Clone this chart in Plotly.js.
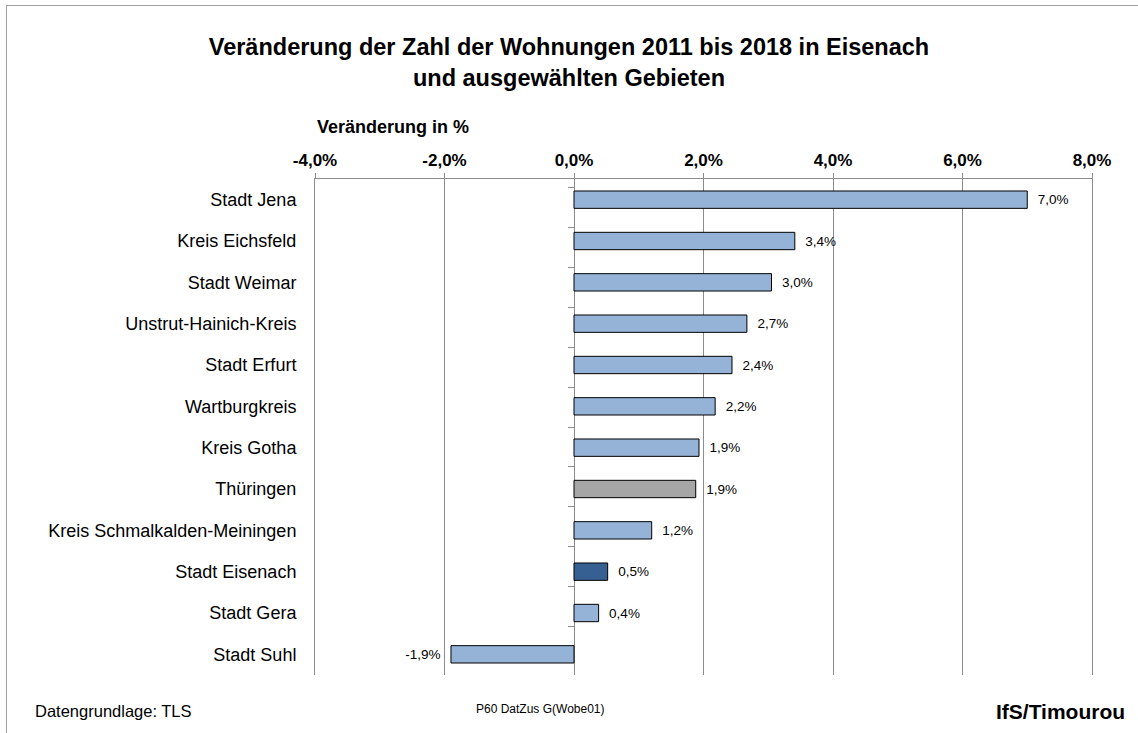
<!DOCTYPE html>
<html>
<head>
<meta charset="utf-8">
<script src="https://cdn.plot.ly/plotly-3.0.1.min.js"></script>
<style>
  html, body { margin: 0; padding: 0; overflow: hidden; background: #fff; }
  #wrap { position: relative; width: 1138px; height: 733px; }
  #chart { width: 1138px; height: 733px; }
  #frame { position: absolute; left: 6px; top: 5px; width: 1300px; height: 900px;
           border: 1px solid #a0a0a0; pointer-events: none; box-sizing: border-box; }
</style>
</head>
<body>
<div id="wrap">
  <div id="chart"></div>
  <div id="frame"></div>
</div>
<script>
const categories = [
  'Stadt Jena', 'Kreis Eichsfeld', 'Stadt Weimar', 'Unstrut-Hainich-Kreis',
  'Stadt Erfurt', 'Wartburgkreis', 'Kreis Gotha', 'Thüringen',
  'Kreis Schmalkalden-Meiningen', 'Stadt Eisenach', 'Stadt Gera', 'Stadt Suhl'
];
const changePct = [7.0, 3.41, 3.05, 2.67, 2.44, 2.18, 1.93, 1.88, 1.2, 0.52, 0.38, -1.9];
const xTickVals = [-4, -2, 0, 2, 4, 6, 8];
const xTickText = ['-4,0%', '-2,0%', '0,0%', '2,0%', '4,0%', '6,0%', '8,0%'];
const stateName = 'Thüringen';
const focusName = 'Stadt Eisenach';

const FONT = 'Liberation Sans, Arial, sans-serif';
const LIGHT = '#95b3d7', DARK = '#376092', GREY = '#a6a6a6', GRID = '#8c8c8c';
const NB = '\u00a0\u00a0';

const barColors = categories.map(c => c === stateName ? GREY : (c === focusName ? DARK : LIGHT));
const labels = changePct.map(v => {
  const s = v.toFixed(1).replace('.', ',') + '%';
  return v < 0 ? s + NB : NB + s;
});

const traces = [
  {
    type: 'bar', orientation: 'h',
    x: changePct, y: categories,
    marker: { color: barColors, line: { color: '#000', width: 1 } },
    width: 0.42,
    text: labels, textposition: 'outside', cliponaxis: false,
    textfont: { family: FONT, size: 13.5, color: '#000' },
    hoverinfo: 'x+y', showlegend: false
  },
  {
    type: 'scatter', mode: 'markers',
    x: changePct, y: categories, yaxis: 'y2',
    marker: { opacity: 0 }, hoverinfo: 'skip', showlegend: false
  }
];

const layout = {
  width: 1138, height: 733,
  margin: { l: 315, r: 46, t: 179, b: 58 },
  paper_bgcolor: '#fff', plot_bgcolor: '#fff',
  font: { family: FONT, color: '#000' },
  title: {
    text: 'Veränderung der Zahl der Wohnungen 2011 bis 2018 in Eisenach<br>und ausgewählten Gebieten',
    font: { family: FONT, size: 23.5, weight: 'bold', color: '#000' },
    x: 0.5, xref: 'container', xanchor: 'center',
    y: 1 - 55 / 733, yref: 'container', yanchor: 'top'
  },
  xaxis: {
    range: [-4, 8], side: 'top',
    tickvals: xTickVals, ticktext: xTickText,
    tickfont: { family: FONT, size: 17, weight: 'bold', color: '#000' },
    showgrid: true, gridcolor: GRID, gridwidth: 1,
    zeroline: true, zerolinecolor: GRID, zerolinewidth: 1,
    showline: true, linecolor: GRID, linewidth: 1,
    ticks: 'outside', ticklen: 5, tickcolor: GRID,
    fixedrange: true
  },
  yaxis: {
    type: 'category', categoryorder: 'array', categoryarray: categories,
    autorange: 'reversed',
    tickfont: { family: FONT, size: 18, color: '#000' },
    ticks: '', ticklabelstandoff: 14,
    showline: true, mirror: true, linecolor: GRID, linewidth: 1,
    showgrid: false, zeroline: false, fixedrange: true
  },
  yaxis2: {
    type: 'category', categoryorder: 'array', categoryarray: categories,
    autorange: 'reversed',
    overlaying: 'y', anchor: 'free', position: 1 / 3, side: 'left',
    showticklabels: false, showgrid: false, zeroline: false, showline: false,
    ticks: 'outside', tickson: 'boundaries', ticklen: 6, tickwidth: 1, tickcolor: GRID,
    fixedrange: true
  },
  annotations: [
    { text: '<b>Veränderung in %</b>', xref: 'paper', yref: 'paper',
      x: 0, xanchor: 'left', y: (675 - 127) / 496, yanchor: 'middle',
      showarrow: false, font: { family: FONT, size: 18, color: '#000' } },
    { text: 'Datengrundlage: TLS', xref: 'paper', yref: 'paper',
      x: (33 - 315) / 777, xanchor: 'left', y: (675 - 711) / 496, yanchor: 'middle',
      showarrow: false, font: { family: FONT, size: 16.5, color: '#000' } },
    { text: 'P60 DatZus G(Wobe01)', xref: 'paper', yref: 'paper',
      x: (540 - 315) / 777, xanchor: 'center', y: (675 - 709) / 496, yanchor: 'middle',
      showarrow: false, font: { family: FONT, size: 12, color: '#000' } },
    { text: '<b>IfS/Timourou</b>', xref: 'paper', yref: 'paper',
      x: (1127 - 315) / 777, xanchor: 'right', y: (675 - 711) / 496, yanchor: 'middle',
      showarrow: false, font: { family: FONT, size: 21, color: '#000' } }
  ],
  bargap: 0.58
};

Plotly.newPlot('chart', traces, layout, { displayModeBar: false, staticPlot: true });
</script>
</body>
</html>
